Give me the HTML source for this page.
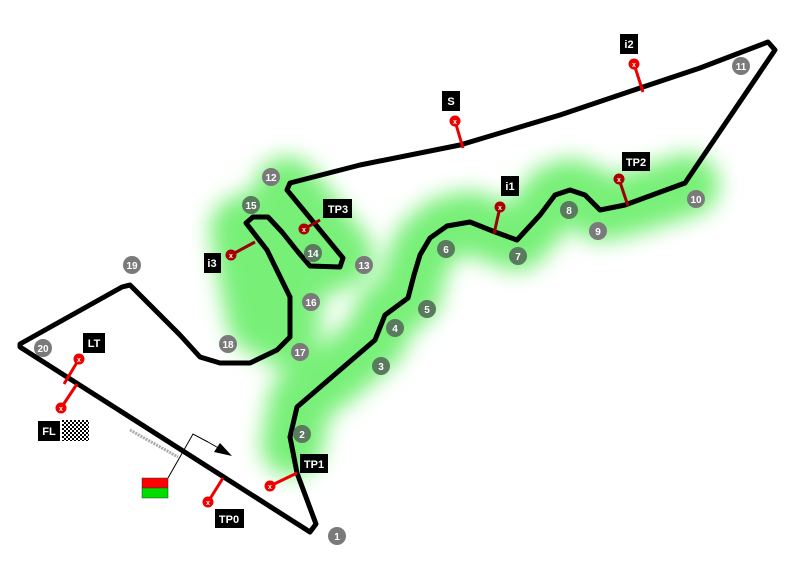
<!DOCTYPE html>
<html><head><meta charset="utf-8"><style>
html,body{margin:0;padding:0;background:#fff;}
svg{display:block;}
text{font-family:"Liberation Sans",sans-serif;font-weight:bold;}
</style></head><body>
<svg width="800" height="569" viewBox="0 0 800 569" xmlns="http://www.w3.org/2000/svg">
<defs>
<filter id="blur" x="-30%" y="-30%" width="160%" height="160%"><feGaussianBlur stdDeviation="11"/></filter>
<pattern id="chk" width="4" height="4" patternUnits="userSpaceOnUse"><rect width="4" height="4" fill="#000"/><rect width="2" height="2" fill="#fff"/><rect x="2" y="2" width="2" height="2" fill="#fff"/></pattern>
</defs>
<!-- green glow -->
<g filter="url(#blur)" fill="none" stroke="#78f078" stroke-linecap="round" stroke-linejoin="round">
<path d="M292,445 L300,400 L340,370 L375,340 L385,315 L410,295 L415,270 L425,245 L445,228 L470,222 L495,232 L517,240 L540,215 L555,195 L570,190 L585,195 L600,210 L625,205 L688,185" stroke-width="62"/>
<path d="M287,190 L340,255 L310,266 L280,230 L253,225 L267,250 L290,300 L285,335" stroke-width="66"/>
<path d="M245,230 L262,320" stroke-width="70"/>
<path d="M300,200 L300,260" stroke-width="60"/>
</g>
<!-- track -->
<path d="M20,347 L310,532 L316,524 L297,473 L290,437 L297,407 L340,370 L375,340 L385,315 L408,298 L414,275 L420,255 L430,238 L447,226 L470,222 L495,232 L517,240 L540,215 L555,195 L570,190 L585,195 L600,210 L625,205 L685,183 L775,50 L768,42 L700,68 L640,88 L560,115 L460,145 L360,165 L290,183 L287,190 L343,258 L340,267 L310,266 L298,252 L282,232 L268,217 L253,217 L246,223 L267,250 L290,297 L290,337 L277,350 L250,363 L220,363 L200,357 L180,335 L130,285 L122,287 L20,344 Z" fill="none" stroke="#000" stroke-width="5" stroke-linejoin="round"/>
<!-- start/finish marks -->
<line x1="130" y1="430" x2="178" y2="457" stroke="#aaa" stroke-width="3" stroke-dasharray="2 1"/>
<!-- flag and arrow -->
<polyline points="168,478 193,434 208,442" fill="none" stroke="#000" stroke-width="1"/>
<line x1="208" y1="442" x2="222" y2="450" stroke="#000" stroke-width="1"/>
<polygon points="232,456 214,452 220,443" fill="#000"/>
<rect x="142" y="478" width="26" height="10" fill="#f00" stroke="#333" stroke-width="0.5"/>
<rect x="142" y="488" width="26" height="10" fill="#0d0" stroke="#333" stroke-width="0.5"/>
<!-- markers -->
<g stroke-width="3">
<line x1="455" y1="121" x2="463" y2="148" stroke="#e00"/>
<line x1="634" y1="64" x2="643" y2="92" stroke="#e00"/>
<line x1="500" y1="207" x2="494" y2="234" stroke="#900"/>
<line x1="619" y1="179" x2="628" y2="206" stroke="#900"/>
<line x1="304" y1="229" x2="320" y2="220" stroke="#900"/>
<line x1="231" y1="255" x2="255" y2="242" stroke="#900"/>
<line x1="79" y1="359" x2="64" y2="384" stroke="#e00"/>
<line x1="61" y1="408" x2="77" y2="384" stroke="#e00"/>
<line x1="270" y1="486" x2="297" y2="473" stroke="#e00"/>
<line x1="208" y1="502" x2="223" y2="478" stroke="#e00"/>
</g>
<g font-size="7" text-anchor="middle" fill="#fff">
<circle cx="455" cy="121" r="5.5" fill="#e00"/><text x="455" y="124">x</text>
<circle cx="634" cy="64" r="5.5" fill="#e00"/><text x="634" y="67">x</text>
<circle cx="500" cy="207" r="5.5" fill="#a00"/><text x="500" y="210">x</text>
<circle cx="619" cy="179" r="5.5" fill="#a00"/><text x="619" y="182">x</text>
<circle cx="304" cy="229" r="5.5" fill="#a00"/><text x="304" y="232">x</text>
<circle cx="231" cy="255" r="5.5" fill="#a00"/><text x="231" y="258">x</text>
<circle cx="79" cy="359" r="5.5" fill="#e00"/><text x="79" y="362">x</text>
<circle cx="61" cy="408" r="5.5" fill="#e00"/><text x="61" y="411">x</text>
<circle cx="270" cy="486" r="5.5" fill="#e00"/><text x="270" y="489">x</text>
<circle cx="208" cy="502" r="5.5" fill="#e00"/><text x="208" y="505">x</text>
</g>
<!-- tags -->
<g font-size="11" fill="#fff" text-anchor="middle">
<rect x="442" y="91" width="18" height="20" fill="#000"/><text x="451" y="105">S</text>
<rect x="620" y="34" width="18" height="20" fill="#000"/><text x="629" y="48">i2</text>
<rect x="501" y="176" width="18" height="20" fill="#000"/><text x="510" y="190">i1</text>
<rect x="622" y="152" width="28" height="19" fill="#000"/><text x="636" y="166">TP2</text>
<rect x="323" y="199" width="29" height="19" fill="#000"/><text x="338" y="213">TP3</text>
<rect x="204" y="253" width="17" height="20" fill="#000"/><text x="212" y="267">i3</text>
<rect x="83" y="333" width="22" height="20" fill="#000"/><text x="94" y="347">LT</text>
<rect x="38" y="421" width="22" height="20" fill="#000"/><text x="49" y="435">FL</text>
<rect x="300" y="454" width="28" height="19" fill="#000"/><text x="314" y="468">TP1</text>
<rect x="215" y="509" width="29" height="19" fill="#000"/><text x="229" y="523">TP0</text>
</g>
<rect x="62" y="420" width="27" height="21" fill="url(#chk)"/>
<!-- turn numbers -->
<g font-size="10" fill="#fff" text-anchor="middle">
<g fill="#7a7a7a">
<circle cx="337" cy="536" r="9"/><circle cx="741" cy="66" r="9"/><circle cx="132" cy="265" r="9"/><circle cx="43" cy="348" r="9"/><circle cx="228" cy="344" r="9"/><circle cx="300" cy="352" r="9"/><circle cx="364" cy="265" r="9"/><circle cx="696" cy="199" r="9"/><circle cx="271" cy="177" r="9"/><circle cx="598" cy="231" r="9"/><circle cx="311" cy="302" r="9"/>
</g>
<g fill="#5a7a5e">
<circle cx="302" cy="434" r="9"/><circle cx="381" cy="366" r="9"/><circle cx="395" cy="328" r="9"/><circle cx="427" cy="309" r="9"/><circle cx="446" cy="249" r="9"/><circle cx="518" cy="256" r="9"/><circle cx="569" cy="210" r="9"/><circle cx="313" cy="253" r="9"/><circle cx="251" cy="205" r="9"/>
</g>
<text x="337" y="540">1</text><text x="302" y="438">2</text><text x="381" y="370">3</text><text x="395" y="332">4</text><text x="427" y="313">5</text><text x="446" y="253">6</text><text x="518" y="260">7</text><text x="569" y="214">8</text><text x="598" y="235">9</text><text x="696" y="203">10</text><text x="741" y="70">11</text><text x="271" y="181">12</text><text x="364" y="269">13</text><text x="313" y="257">14</text><text x="251" y="209">15</text><text x="311" y="306">16</text><text x="300" y="356">17</text><text x="228" y="348">18</text><text x="132" y="269">19</text><text x="43" y="352">20</text>
</g>
</svg>
</body></html>
